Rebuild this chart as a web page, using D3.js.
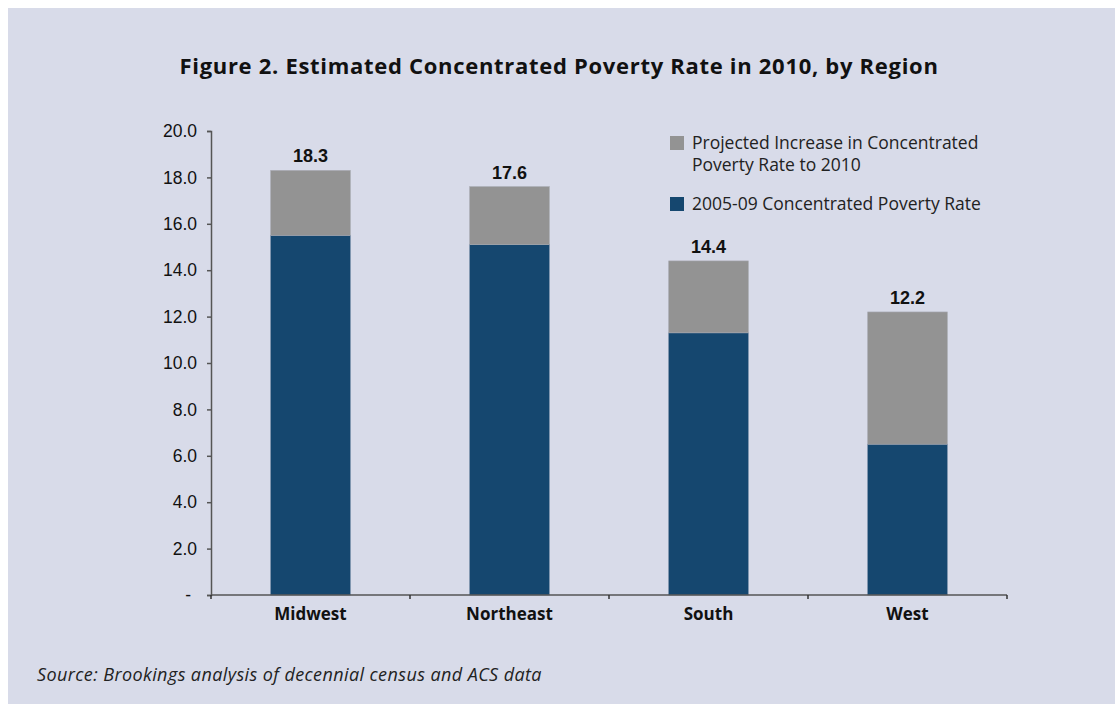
<!DOCTYPE html>
<html>
<head>
<meta charset="utf-8">
<script src="https://cdn.jsdelivr.net/npm/d3@7"></script>
<style>
  body { margin: 0; background: #fff; }
  .tick-label { font-family: "Liberation Sans", Arial, sans-serif; font-size: 17.5px; fill: #111; }
  .cat-label { font-family: "Open Sans", sans-serif; font-weight: bold; font-size: 17px; fill: #111; }
  .value-label { font-family: "Liberation Sans", Arial, sans-serif; font-weight: bold; font-size: 18px; fill: #111; }
  .legend-text { font-family: "Open Sans", sans-serif; font-size: 17.5px; fill: #222; }
</style>
</head>
<body>
<svg id="chart" width="1115" height="704" viewBox="0 0 1115 704"></svg>
<script>
// Data
const regions = ["Midwest", "Northeast", "South", "West"];
const base_rate = [15.5, 15.1, 11.3, 6.5];       // 2005-09 concentrated poverty rate
const total_rate = [18.3, 17.6, 14.4, 12.2];     // estimated 2010 rate
const y_ticks = [0, 2, 4, 6, 8, 10, 12, 14, 16, 18, 20];
const legend_items = [
    { lines: ["Projected Increase in Concentrated", "Poverty Rate to 2010"], color: "#939393" },
    { lines: ["2005-09 Concentrated Poverty Rate"], color: "#15476f" }
];

const svg = d3.select('#chart');

// Background panel
svg.append('rect')
    .attr('x', 8).attr('y', 8)
    .attr('width', 1107).attr('height', 696)
    .attr('fill', '#d8dbe9');

// Title
svg.append('text')
    .attr('x', 559).attr('y', 74)
    .attr('text-anchor', 'middle')
    .style('font-family', '"Open Sans", sans-serif')
    .style('font-weight', 'bold')
    .style('font-size', '22px')
    .style('letter-spacing', '0.7px')
    .style('fill', '#111')
    .text('Figure 2. Estimated Concentrated Poverty Rate in 2010, by Region');

// Scales
const x_scale = d3.scaleBand()
    .domain(regions)
    .range([211, 1007])
    .paddingInner(0.6)
    .paddingOuter(0.3);
const y_scale = d3.scaleLinear()
    .domain([0, 20])
    .range([595, 131]);

// Y axis
const y_axis = d3.axisLeft(y_scale)
    .tickValues(y_ticks)
    .tickSize(4)
    .tickPadding(10)
    .tickFormat(d => d === 0 ? '-' : d3.format('.1f')(d));
const y_g = svg.append('g')
    .attr('transform', 'translate(211,0)')
    .call(y_axis);
y_g.select('.domain').attr('stroke', '#555').attr('stroke-width', 1.5);
y_g.selectAll('.tick line').attr('stroke', '#555').attr('stroke-width', 1.5);
y_g.selectAll('.tick text').attr('class', 'tick-label').attr('fill', null);
y_g.selectAll('.tick text').filter(d => d === 0).attr('dx', -6);

// Stacked bars
const bars = svg.append('g');
regions.forEach((r, i) => {
    bars.append('rect')
        .attr('x', x_scale(r))
        .attr('y', y_scale(base_rate[i]))
        .attr('width', x_scale.bandwidth())
        .attr('height', y_scale(0) - y_scale(base_rate[i]))
        .attr('fill', '#15476f')
        .attr('stroke', '#6f87a3')
        .attr('stroke-width', 0.6);
    bars.append('rect')
        .attr('x', x_scale(r))
        .attr('y', y_scale(total_rate[i]))
        .attr('width', x_scale.bandwidth())
        .attr('height', y_scale(base_rate[i]) - y_scale(total_rate[i]))
        .attr('fill', '#939393')
        .attr('stroke', '#a6a8b0')
        .attr('stroke-width', 0.6);
});

// Value labels
svg.append('g')
    .selectAll('text')
    .data(regions)
    .enter()
    .append('text')
    .attr('class', 'value-label')
    .attr('x', d => x_scale(d) + x_scale.bandwidth() / 2)
    .attr('y', (d, i) => y_scale(total_rate[i]) - 8)
    .attr('text-anchor', 'middle')
    .text((d, i) => total_rate[i].toFixed(1));

// X axis with boundary ticks between categories
const x_g = svg.append('g');
x_g.append('line')
    .attr('x1', 211).attr('x2', 1007)
    .attr('y1', y_scale(0)).attr('y2', y_scale(0))
    .attr('stroke', '#555').attr('stroke-width', 1.5);
d3.range(regions.length + 1).forEach(k => {
    const xb = 211 + k * (1007 - 211) / regions.length;
    x_g.append('line')
        .attr('x1', xb).attr('x2', xb)
        .attr('y1', y_scale(0)).attr('y2', y_scale(0) + 4)
        .attr('stroke', '#333').attr('stroke-width', 1.5);
});
x_g.selectAll('text')
    .data(regions)
    .enter()
    .append('text')
    .attr('class', 'cat-label')
    .attr('x', d => x_scale(d) + x_scale.bandwidth() / 2)
    .attr('y', 620)
    .attr('text-anchor', 'middle')
    .text(d => d);

// Legend
const legend = svg.append('g').attr('transform', 'translate(670,136)');
let ly = 0;
legend_items.forEach(item => {
    legend.append('rect')
        .attr('x', 0).attr('y', ly)
        .attr('width', 14).attr('height', 14)
        .attr('fill', item.color);
    item.lines.forEach((line, j) => {
        legend.append('text')
            .attr('class', 'legend-text')
            .attr('x', 22)
            .attr('y', ly + 13 + j * 22)
            .text(line);
    });
    ly += 61;
});

// Source
svg.append('text')
    .attr('x', 37).attr('y', 681)
    .style('font-family', '"Open Sans", sans-serif')
    .style('font-style', 'italic')
    .style('font-size', '18px')
    .style('letter-spacing', '0.4px')
    .style('fill', '#222')
    .text('Source: Brookings analysis of decennial census and ACS data');
</script>
</body>
</html>
